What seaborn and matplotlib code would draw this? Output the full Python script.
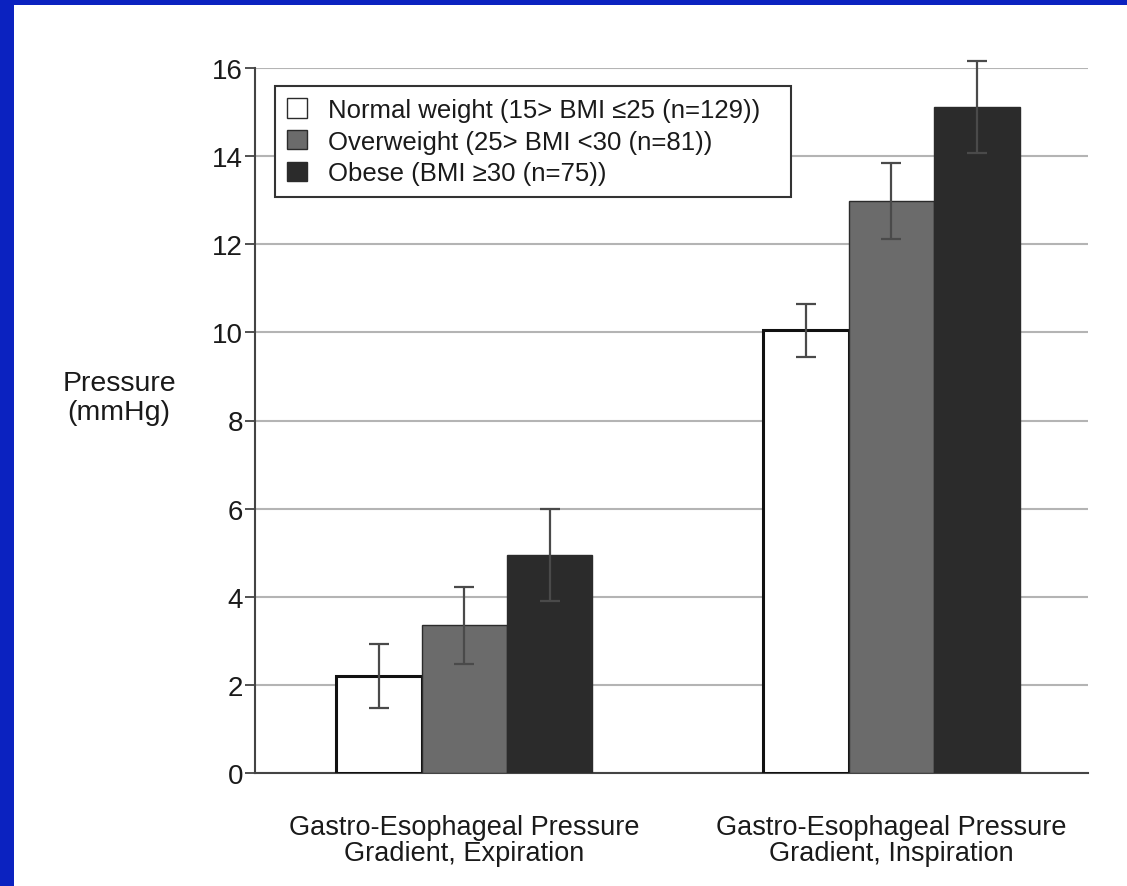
import pandas as pd
import matplotlib.pyplot as plt
import seaborn as sns
from matplotlib.patches import Rectangle

# Values (mean pressure and error half-width, mmHg)
categories = ["Gastro-Esophageal Pressure\nGradient, Expiration",
              "Gastro-Esophageal Pressure\nGradient, Inspiration"]
groups = ["Normal weight (15> BMI \u226425 (n=129))",
          "Overweight (25> BMI <30 (n=81))",
          "Obese (BMI \u226530 (n=75))"]
normal_means = [2.2, 10.05]
overweight_means = [3.35, 12.98]
obese_means = [4.95, 15.12]
normal_err = [0.73, 0.6]
overweight_err = [0.88, 0.87]
obese_err = [1.05, 1.05]

colors = ["#ffffff", "#6b6b6b", "#2b2b2b"]

df = pd.DataFrame({
    "category": categories * 3,
    "group": [g for g in groups for _ in categories],
    "mean": normal_means + overweight_means + obese_means,
})
errs = [normal_err, overweight_err, obese_err]

sns.set_style("white")
plt.rcParams["font.family"] = ["Liberation Sans", "DejaVu Sans"]

fig = plt.figure(figsize=(11.27, 8.87), dpi=100, facecolor="#0b22c0")
fig.patches.append(Rectangle((14 / 1127, 0), 1, 881 / 887, transform=fig.transFigure,
                             facecolor="white", edgecolor="none", zorder=-5))
ax = fig.add_axes([255 / 1127, 113 / 887, 833 / 1127, 705 / 887])
ax.set_zorder(2)

sns.barplot(data=df, x="category", y="mean", hue="group", palette=colors,
            width=0.6, errorbar=None, saturation=1, ax=ax,
            edgecolor="#2b2b2b", linewidth=1, zorder=3)

# outline on the white bars is heavier in the original
for bar in ax.containers[0]:
    bar.set_edgecolor("#111111")
    bar.set_linewidth(2.2)

for cont, e in zip(ax.containers, errs):
    for bar, err in zip(cont, e):
        ax.errorbar(bar.get_x() + bar.get_width() / 2, bar.get_height(), yerr=err,
                    fmt="none", ecolor="#4a4a4a", elinewidth=1.6, capsize=7,
                    capthick=1.6, zorder=4, clip_on=False)

ax.set_xlim(-0.49, 1.46)
ax.set_ylim(0, 16)
ax.set_yticks(range(0, 17, 2))
ax.yaxis.grid(True, color="#b4b4b4", linewidth=1.5)
ax.set_axisbelow(True)
ax.tick_params(axis="y", left=True, length=7, width=1.2, color="#333333",
               labelsize=20, pad=1.5, labelcolor="#1a1a1a")
ax.tick_params(axis="x", bottom=False, labelsize=19.5, pad=26, labelcolor="#1a1a1a")
for lbl in ax.get_xticklabels():
    lbl.set_multialignment("center")
    lbl.set_linespacing(1.0)

for s in ["top", "right"]:
    ax.spines[s].set_visible(False)
for s in ["left", "bottom"]:
    ax.spines[s].set_color("#444444")
    ax.spines[s].set_linewidth(1.5)

ax.set_xlabel("")
ax.set_ylabel("Pressure\n(mmHg)", rotation=0, fontsize=20.5, ha="center", va="center",
              color="#1a1a1a", linespacing=1.15)
ax.yaxis.set_label_coords(-0.163, 0.533)

leg = ax.legend(loc="upper left", bbox_to_anchor=(0.024, 0.818, 0.62, 0.156),
                mode="expand", frameon=True, fancybox=False, fontsize=18.5,
                handlelength=0.78, handleheight=0.78, handletextpad=0.85,
                labelspacing=0.3, borderpad=0.45, borderaxespad=0)
leg.get_frame().set_edgecolor("#333333")
leg.get_frame().set_linewidth(1.5)
leg.get_frame().set_alpha(1)
leg.set_zorder(5)
for t in leg.get_texts():
    t.set_color("#1a1a1a")

fig.savefig("out.png", dpi=100, facecolor=fig.get_facecolor())
